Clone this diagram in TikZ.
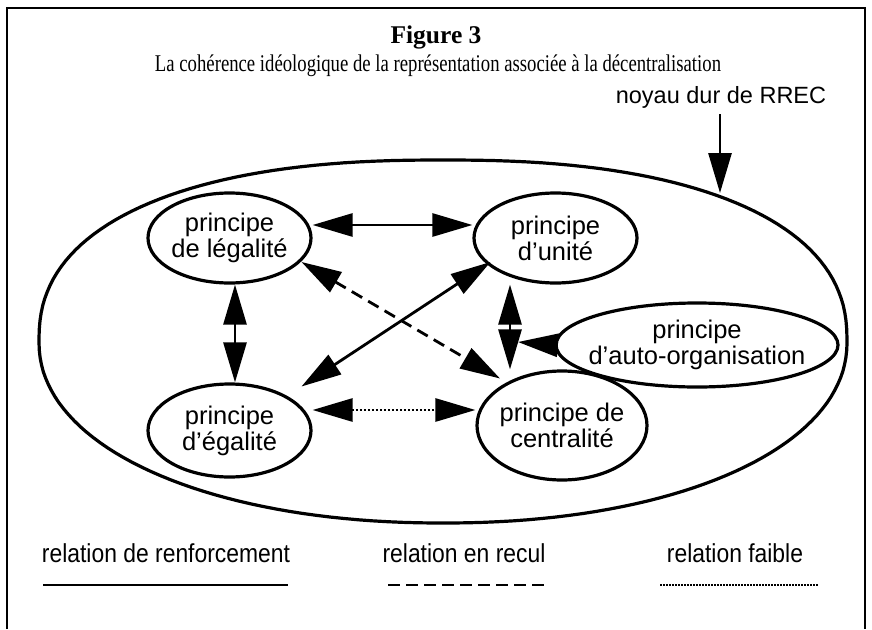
\documentclass[tikz,border=0pt]{standalone}
\usepackage{fontspec}
\setmainfont{Liberation Serif}
\setsansfont{Liberation Sans}
\usetikzlibrary{shapes.geometric,arrows.meta}
\tikzset{
  princ/.style={draw, ellipse, line width=3.2pt, inner xsep=-60pt, inner ysep=0pt, align=center,
    font=\sffamily\fontsize{25.5}{26}\selectfont},
  rel/.style={line width=2.8pt, {Triangle[length=40pt,width=23pt]}-{Triangle[length=40pt,width=23pt]}},
  onehead/.style={line width=2.8pt, -{Triangle[length=40pt,width=23pt]}},
  legtext/.style={font=\sffamily\fontsize{26}{28}\selectfont},
  frameline/.style={line width=1.6pt},
}
\begin{document}
\begin{tikzpicture}[x=1pt,y=-1pt]
\useasboundingbox (0,0) rectangle (872,629);
\draw[frameline] (7,629) -- (7,8) -- (865,8) -- (865,629);
\node[font=\bfseries\fontsize{25.5}{28}\selectfont] (title) at (436,37) {Figure 3};
\node[font=\fontsize{24}{26}\selectfont] (sub) at (438,66) {\scalebox{0.78}[1]{La cohérence idéologique de la représentation associée à la décentralisation}};
\node[font=\sffamily\fontsize{23.5}{26}\selectfont] (noyau) at (721,97) {noyau dur de RREC};
% noyau dur: near-elliptic closed curve, slightly fuller at the top
\draw[line width=3.2pt, line join=round]
  plot[domain=180.5:359.5, samples=90]
    ({443+404*sign(cos(\x))*abs(cos(\x))^0.85}, {341.5+181.5*sign(sin(\x))*abs(sin(\x))^0.85})
  -- plot[domain=0.5:179.5, samples=90]
    ({443+404*sign(cos(\x))*abs(cos(\x))^0.95}, {341.5+181.5*sign(sin(\x))*abs(sin(\x))^0.95})
  -- cycle;
\coordinate (ntip) at (720,193);
\draw[onehead] (720,114) -- (ntip);

\node[princ, minimum width=163pt, minimum height=90pt] (leg) at (229.5,238) {principe\\de légalité};
\node[princ, minimum width=163pt, minimum height=90pt] (uni) at (555.5,238) {principe\\d’unité};
\node[princ, minimum width=282pt, minimum height=84pt] (auto) at (697,345) {principe\\d’auto-organisation};
\node[princ, minimum width=163pt, minimum height=93pt] (ega) at (229.5,430.5) {principe\\d’égalité};
\node[princ, minimum width=170pt, minimum height=109pt] (cen) at (562,425.5) {principe de\\centralité};

\path (ega.center) ++(72,-44) coordinate (a1);
\path (uni.center) ++(-65,24) coordinate (a2);
\path (leg.center) ++(72,24) coordinate (b1);
\path (cen.center) ++(-62,-47) coordinate (b2);
\coordinate (c1) at (518,342);

\draw[rel] (leg.east |- 0,225) -- (uni.west |- 0,225);
\draw[rel] (leg.south -| 235,0) -- (ega.north -| 235,0);
\draw[rel] (a1) -- (a2);
\draw[rel, dash pattern=on 12pt off 7pt] (b1) -- (b2);
\draw[rel, dash pattern=on 2pt off 2pt] (ega.east |- 0,410) -- (cen.west |- 0,410);
\draw[rel, dash pattern=on 12pt off 7pt] (uni.south -| 510,0) -- (cen.north -| 510,0);
\draw[onehead] (auto.west) -- (c1);

\node[legtext] (l1) at (166,553) {\scalebox{0.88}[1]{relation de renforcement}};
\node[legtext] (l2) at (464,553) {\scalebox{0.88}[1]{relation en recul}};
\node[legtext] (l3) at (735,553) {\scalebox{0.88}[1]{relation faible}};
\coordinate (s1) at (43,585); \coordinate (s2) at (288,585);
\coordinate (d1) at (388,585); \coordinate (d2) at (548,585);
\coordinate (p1) at (660,585); \coordinate (p2) at (818,585);
\draw[line width=2.8pt] (s1) -- (s2);
\draw[line width=2.8pt, dash pattern=on 12pt off 6pt] (d1) -- (d2);
\draw[line width=2pt, dash pattern=on 1.5pt off 1.5pt] (p1) -- (p2);
\end{tikzpicture}
\end{document}
